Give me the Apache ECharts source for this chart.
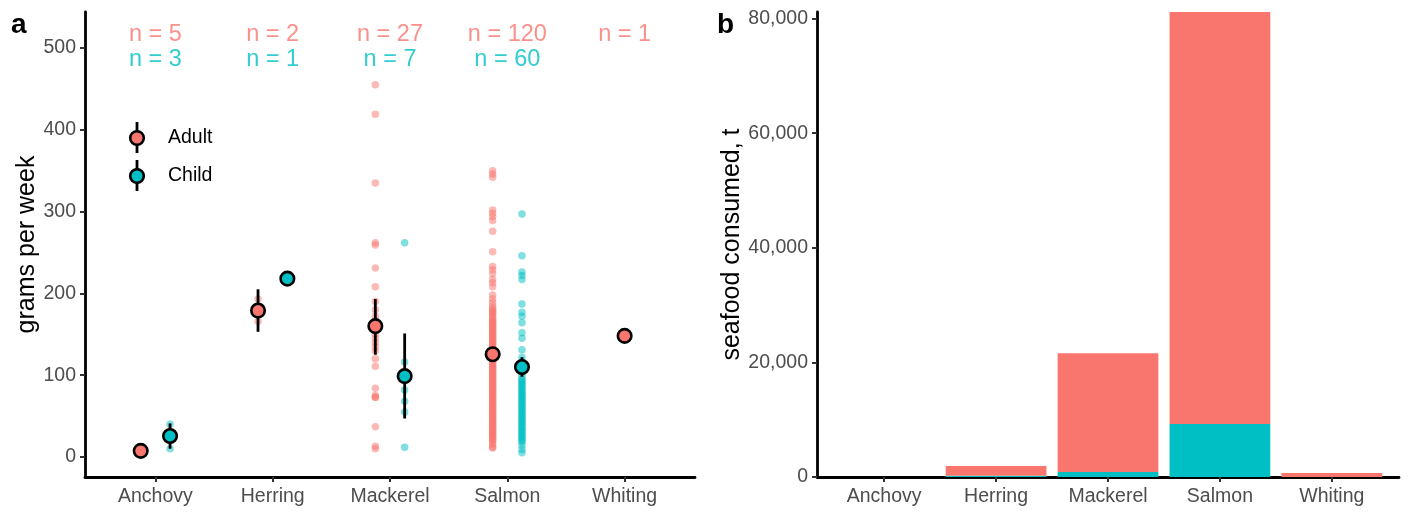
<!DOCTYPE html>
<html>
<head>
<meta charset="utf-8">
<script src="https://cdn.jsdelivr.net/npm/echarts@6/dist/echarts.min.js"></script>
<style>
  html, body { margin: 0; padding: 0; background: #fff; }
  #chart { width: 1408px; height: 512px; }
</style>
</head>
<body>
<div id="chart"></div>
<script>
// 类别
const categories = ['Anchovy', 'Herring', 'Mackerel', 'Salmon', 'Whiting'];

// 原始数据 grams per week
const adultGrams = [
  [5, 6, 7, 8, 10],
  [193, 166],
  [455, 419, 335, 262, 259, 231, 208, 190, 180, 172, 166, 160, 155, 150, 145, 140, 135, 130, 120, 111, 84, 75, 73, 73, 37, 13, 10],
  [350, 346, 342, 302, 298, 294, 289, 276, 251, 233, 229, 224, 217, 213, 208, 198, 193, 189,
   185, 182, 180, 178, 176, 175, 172, 170, 168, 166, 165, 163, 161, 160, 158, 156, 155, 153, 151, 150,
   148, 146, 145, 143, 141, 140, 138, 136, 135, 133, 131, 130, 128, 126, 125, 123, 121, 120,
   118, 116, 115, 113, 111, 110, 108, 106, 105, 103, 101, 100, 98, 96, 95, 93, 91, 90,
   88, 86, 85, 83, 81, 80, 78, 76, 75, 73, 71, 70, 68, 66, 65, 63, 61, 60,
   58, 56, 55, 53, 51, 50, 48, 46, 45, 43, 41, 40, 38, 36, 35, 33, 31, 30,
   28, 26, 25, 23, 21, 20, 17, 15, 12, 11],
  [148]
];
const childGrams = [
  [40, 27, 10],
  [218],
  [262, 116, 95, 82, 68, 55, 12],
  [297, 246, 226, 222, 217, 187, 177, 172, 164, 152, 145, 131, 122, 116, 108, 104, 100, 96,
   94, 92, 90, 88, 86, 84, 82, 80, 78, 76, 74, 72, 70, 68, 66, 64, 62, 60, 58, 56, 54, 52,
   50, 48, 46, 44, 42, 40, 38, 36, 34, 32, 30, 28, 26, 24, 22, 20, 18, 14, 9, 5],
  []
];

// 均值和误差线
const adultMean = [7.5, 179, 160, 125.6, 148];
const adultLow = [5, 153, 125, 118, null];
const adultHigh = [10, 205, 193, 133, null];
const childMean = [25.6, 218, 98.8, 110, null];
const childLow = [10, null, 47, 98, null];
const childHigh = [41, null, 151, 122, null];

// 样本量
const adultN = [5, 2, 27, 120, 1];
const childN = [3, 1, 7, 60, null];

// 右图 seafood consumed, t
const adultTonnes = [8, 1720, 20740, 71910, 700];
const childTonnes = [3, 200, 870, 9240, 0];

// 刻度
const yTicksA = [0, 100, 200, 300, 400, 500];
const yTicksB = [0, 20000, 40000, 60000, 80000];
const xTicks = [0, 1, 2, 3, 4];

const RED = '#F8766D';
const TEAL = '#00BFC4';
const FONT = '"Liberation Sans", Arial, sans-serif';
const DODGE = 0.125;
const N_ADULT_Y = 517;
const N_CHILD_Y = 486;

const chart = echarts.init(document.getElementById('chart'), null, { renderer: 'canvas' });

function hasChild(i) { return childGrams[i].length > 0; }
function adultX(i) { return hasChild(i) ? i - DODGE : i; }
function childX(i) { return i + DODGE; }

const adultRaw = [];
const childRaw = [];
categories.forEach((c, i) => {
  adultGrams[i].forEach(v => adultRaw.push([adultX(i), v]));
  childGrams[i].forEach(v => childRaw.push([childX(i), v]));
});

const adultMeanPts = [];
const childMeanPts = [];
const errBars = [];
categories.forEach((c, i) => {
  if (adultMean[i] != null) adultMeanPts.push([adultX(i), adultMean[i]]);
  if (childMean[i] != null) childMeanPts.push([childX(i), childMean[i]]);
  if (adultLow[i] != null) errBars.push([adultX(i), adultLow[i], adultHigh[i]]);
  if (childLow[i] != null) errBars.push([childX(i), childLow[i], childHigh[i]]);
});

const nLabelsAdult = [];
const nLabelsChild = [];
categories.forEach((c, i) => {
  if (adultN[i] != null) nLabelsAdult.push([i, N_ADULT_Y, adultN[i]]);
  if (childN[i] != null) nLabelsChild.push([i, N_CHILD_Y, childN[i]]);
});

const barData = categories.map((c, i) => [i, childTonnes[i], adultTonnes[i]]);

const axisLineStyle = { color: '#000', width: 2.8 };
const tickStyle = { show: true, length: 5, lineStyle: { color: '#333', width: 2 } };
const labelStyle = { color: '#4D4D4D', fontSize: 19.5, fontFamily: FONT };

const option = {
  animation: false,
  backgroundColor: '#fff',
  grid: [
    { left: 85, right: 713, top: 12, bottom: 35 },
    { left: 817, right: 9, top: 12, bottom: 35 }
  ],
  xAxis: [
    {
      gridIndex: 0, type: 'value', min: -0.6, max: 4.6,
      axisLine: { show: true, lineStyle: axisLineStyle, onZero: false },
      axisTick: Object.assign({ customValues: xTicks }, tickStyle),
      axisLabel: Object.assign({ customValues: xTicks, margin: 10, formatter: v => categories[Math.round(v)] }, labelStyle),
      splitLine: { show: false }
    },
    {
      gridIndex: 1, type: 'value', min: -0.6, max: 4.6,
      axisLine: { show: true, lineStyle: axisLineStyle, onZero: false },
      axisTick: Object.assign({ customValues: xTicks }, tickStyle),
      axisLabel: Object.assign({ customValues: xTicks, margin: 10, formatter: v => categories[Math.round(v)] }, labelStyle),
      splitLine: { show: false }
    }
  ],
  yAxis: [
    {
      gridIndex: 0, type: 'value', min: -24.5, max: 544,
      name: 'grams per week', nameLocation: 'middle', nameGap: 45,
      nameTextStyle: { color: '#000', fontSize: 25, fontFamily: FONT },
      axisLine: { show: true, lineStyle: axisLineStyle, onZero: false },
      axisTick: Object.assign({ customValues: yTicksA }, tickStyle),
      axisLabel: Object.assign({ customValues: yTicksA, margin: 9 }, labelStyle),
      splitLine: { show: false }
    },
    {
      gridIndex: 1, type: 'value', min: 0, max: 81150,
      name: 'seafood consumed, t', nameLocation: 'middle', nameGap: 71,
      nameTextStyle: { color: '#000', fontSize: 25, fontFamily: FONT },
      axisLine: { show: true, lineStyle: axisLineStyle, onZero: false },
      axisTick: Object.assign({ customValues: yTicksB }, tickStyle),
      axisLabel: Object.assign({ customValues: yTicksB, margin: 9, formatter: v => v.toLocaleString('en-US') }, labelStyle),
      splitLine: { show: false }
    }
  ],
  series: [
    {
      type: 'scatter', xAxisIndex: 0, yAxisIndex: 0, z: 2,
      symbolSize: 7.5, data: adultRaw,
      itemStyle: { color: RED, opacity: 0.5 }
    },
    {
      type: 'scatter', xAxisIndex: 0, yAxisIndex: 0, z: 2,
      symbolSize: 7.5, data: childRaw,
      itemStyle: { color: TEAL, opacity: 0.5 }
    },
    {
      type: 'custom', xAxisIndex: 0, yAxisIndex: 0, z: 3,
      data: errBars,
      renderItem: (params, api) => {
        const p1 = api.coord([api.value(0), api.value(1)]);
        const p2 = api.coord([api.value(0), api.value(2)]);
        return {
          type: 'line',
          shape: { x1: p1[0], y1: p1[1], x2: p2[0], y2: p2[1] },
          style: { stroke: '#000', lineWidth: 2.8 }
        };
      }
    },
    {
      type: 'scatter', xAxisIndex: 0, yAxisIndex: 0, z: 4,
      symbolSize: 13.5, data: adultMeanPts,
      itemStyle: { color: RED, borderColor: '#000', borderWidth: 2.6, opacity: 1 }
    },
    {
      type: 'scatter', xAxisIndex: 0, yAxisIndex: 0, z: 4,
      symbolSize: 13.5, data: childMeanPts,
      itemStyle: { color: TEAL, borderColor: '#000', borderWidth: 2.6, opacity: 1 }
    },
    {
      type: 'scatter', xAxisIndex: 0, yAxisIndex: 0, z: 5,
      symbolSize: 0, data: nLabelsAdult,
      label: { show: true, position: 'inside', formatter: p => 'n = ' + p.value[2], color: RED, fontSize: 23.5, fontFamily: FONT }
    },
    {
      type: 'scatter', xAxisIndex: 0, yAxisIndex: 0, z: 5,
      symbolSize: 0, data: nLabelsChild,
      label: { show: true, position: 'inside', formatter: p => 'n = ' + p.value[2], color: TEAL, fontSize: 23.5, fontFamily: FONT }
    },
    {
      type: 'custom', xAxisIndex: 1, yAxisIndex: 1, z: 2,
      data: barData,
      renderItem: (params, api) => {
        const x = api.value(0);
        const c = api.value(1);
        const a = api.value(2);
        const c0 = api.coord([x - 0.45, 0]);
        const c1 = api.coord([x + 0.45, c]);
        const a1 = api.coord([x + 0.45, c + a]);
        return {
          type: 'group',
          children: [
            { type: 'rect', shape: { x: c0[0], y: c1[1], width: c1[0] - c0[0], height: c0[1] - c1[1] }, style: { fill: TEAL } },
            { type: 'rect', shape: { x: c0[0], y: a1[1], width: a1[0] - c0[0], height: c1[1] - a1[1] }, style: { fill: RED } }
          ]
        };
      }
    }
  ],
  graphic: [
    { type: 'text', left: 11, top: 11, style: { text: 'a', font: 'bold 28px ' + FONT, fill: '#000' } },
    { type: 'text', left: 717, top: 11, style: { text: 'b', font: 'bold 28px ' + FONT, fill: '#000' } },
    // 图例
    { type: 'line', shape: { x1: 137, y1: 122, x2: 137, y2: 153 }, style: { stroke: '#000', lineWidth: 2.8 } },
    { type: 'circle', shape: { cx: 137, cy: 138, r: 6.8 }, style: { fill: RED, stroke: '#000', lineWidth: 2.6 } },
    { type: 'text', x: 168, y: 138, style: { text: 'Adult', font: '19.5px ' + FONT, fill: '#000', textVerticalAlign: 'middle' } },
    { type: 'line', shape: { x1: 137, y1: 160, x2: 137, y2: 191 }, style: { stroke: '#000', lineWidth: 2.8 } },
    { type: 'circle', shape: { cx: 137, cy: 176, r: 6.8 }, style: { fill: TEAL, stroke: '#000', lineWidth: 2.6 } },
    { type: 'text', x: 168, y: 176, style: { text: 'Child', font: '19.5px ' + FONT, fill: '#000', textVerticalAlign: 'middle' } }
  ]
};

chart.setOption(option);
window.addEventListener('resize', () => chart.resize());
</script>
</body>
</html>
